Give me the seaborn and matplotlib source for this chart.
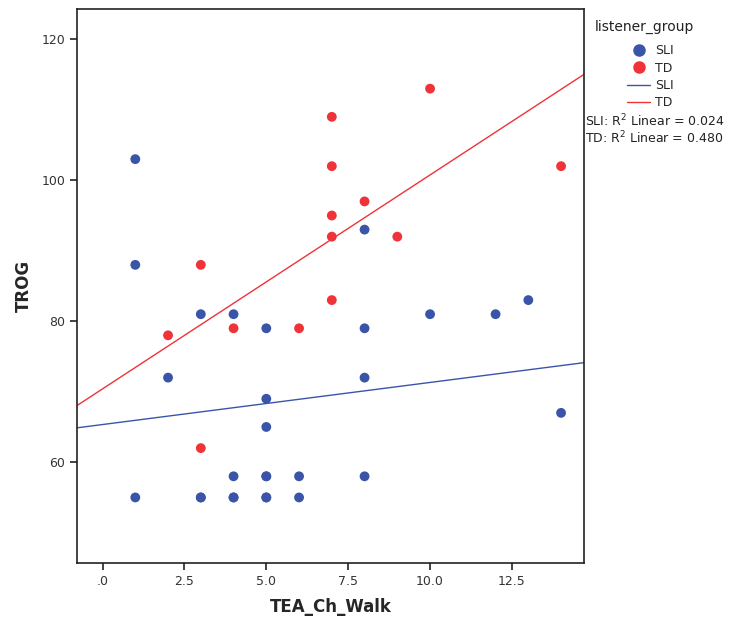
import matplotlib
matplotlib.use("Agg")
import matplotlib.pyplot as plt
from matplotlib.lines import Line2D
import seaborn as sns
import pandas as pd

# Data (SLI includes overplotted duplicates at
# (3,55), (4,55), (5,55), (5,58) implied by the fitted line / R^2)
sli_x = [1, 1, 1, 2, 3, 3, 3, 4, 4, 4, 4, 5, 5, 5, 5, 5, 5, 5, 6, 6, 8, 8, 8, 8, 10, 12, 13, 14]
sli_y = [103, 88, 55, 72, 81, 55, 55, 81, 58, 55, 55, 79, 69, 65, 58, 58, 55, 55, 58, 55, 93, 79, 72, 58, 81, 81, 83, 67]
td_x = [2, 3, 3, 4, 6, 7, 7, 7, 7, 7, 8, 9, 10, 14]
td_y = [78, 88, 62, 79, 79, 109, 102, 95, 92, 83, 97, 92, 113, 102]
groups = ["SLI", "TD"]
x_ticks = [0, 2.5, 5.0, 7.5, 10.0, 12.5]
x_tick_labels = [".0", "2.5", "5.0", "7.5", "10.0", "12.5"]
y_ticks = [60, 80, 100, 120]
r2_labels = ["SLI: R$^2$ Linear = 0.024", "TD: R$^2$ Linear = 0.480"]

df = pd.DataFrame({
    "TEA_Ch_Walk": sli_x + td_x,
    "TROG": sli_y + td_y,
    "listener_group": ["SLI"] * len(sli_x) + ["TD"] * len(td_x),
})

sns.set_style("white")
plt.rcParams["font.family"] = ["DejaVu Sans"]

colors = {"SLI": "#3a55a8", "TD": "#ef3338"}

fig = plt.figure(figsize=(7.33, 6.19), dpi=100)
ax = fig.add_axes([77 / 733, 1 - 563 / 619, (584 - 77) / 733, (563 - 9) / 619])
ax.set_xlim(-0.78, 14.7)
ax.set_ylim(45.7, 124.3)

sns.scatterplot(data=df, x="TEA_Ch_Walk", y="TROG", hue="listener_group",
                palette=colors, s=50, linewidth=0, ax=ax, legend=False, zorder=3)
for g in groups:
    sub = df[df["listener_group"] == g]
    sns.regplot(data=sub, x="TEA_Ch_Walk", y="TROG", scatter=False, ci=None,
                truncate=False, ax=ax, line_kws={"color": colors[g], "lw": 1.0})

ax.set_xlim(-0.78, 14.7)
ax.set_ylim(45.7, 124.3)
ax.set_xticks(x_ticks)
ax.set_xticklabels(x_tick_labels)
ax.set_yticks(y_ticks)
ax.tick_params(axis="both", direction="out", length=5, width=1.2, color="#222222",
               labelsize=9, labelcolor="#333333", bottom=True, left=True)
for sp in ax.spines.values():
    sp.set_color("#222222")
    sp.set_linewidth(1.2)
ax.set_xlabel("TEA_Ch_Walk", fontsize=12, fontweight="bold", labelpad=7)
ax.set_ylabel("TROG", fontsize=12, fontweight="bold", labelpad=6)

# Legend
fig.text(595 / 733, 1 - 27 / 619, "listener_group", fontsize=10, va="center", ha="left", color="#222222")
handles = [
    Line2D([], [], marker="o", ls="", color=colors["SLI"], markersize=8),
    Line2D([], [], marker="o", ls="", color=colors["TD"], markersize=8),
    Line2D([], [], color=colors["SLI"], lw=1),
    Line2D([], [], color=colors["TD"], lw=1),
]
fig.legend(handles, ["SLI", "TD", "SLI", "TD"], loc="upper left",
           bbox_to_anchor=(621 / 733, 1 - 38 / 619), frameon=False, fontsize=9,
           handlelength=1.8, handletextpad=0.4, labelspacing=0.35, borderpad=0)
for i, t in enumerate(r2_labels):
    fig.text(585 / 733, 1 - (121 + 17 * i) / 619, t, fontsize=9, va="center", ha="left", color="#222222")

fig.savefig("out.png", dpi=100)
